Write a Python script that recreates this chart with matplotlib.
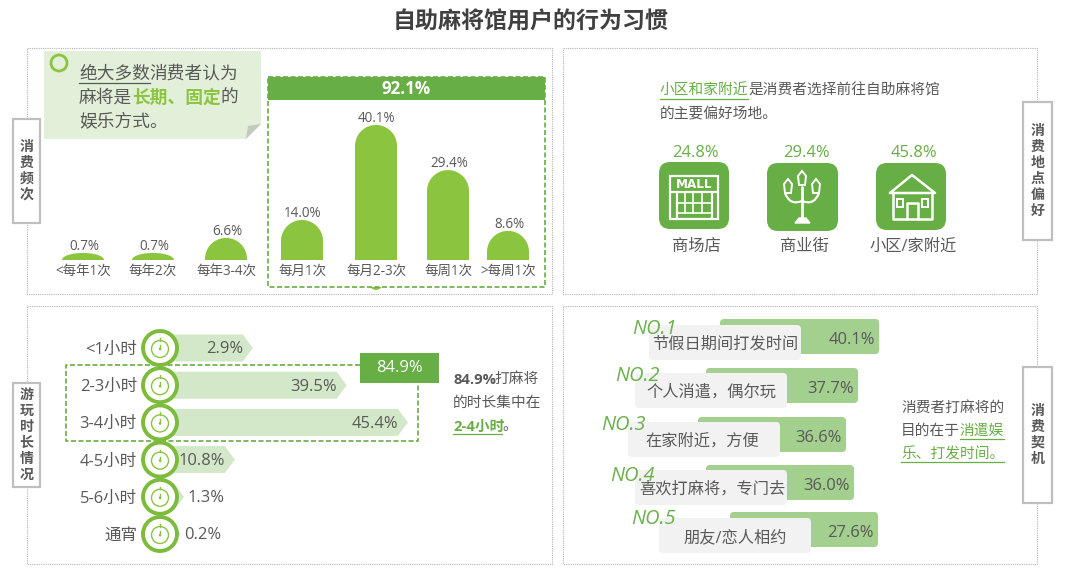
import numpy as np
import matplotlib
matplotlib.use('Agg')
import matplotlib.pyplot as plt
from matplotlib.patches import Rectangle, Polygon, FancyBboxPatch, Circle, PathPatch
from matplotlib.path import Path

plt.rcParams['font.family'] = ['Open Sans', 'Noto Sans CJK SC', 'DejaVu Sans']

W, H = 1069, 570
GREEN = '#67ae45'
BAR_GREEN = '#8bc53f'
TEXT = '#595959'

# visit frequency, the source bars are not to scale so heights are read separately
freq_labels = ['<每年1次', '每年2次', '每年3-4次', '每月1次', '每月2-3次', '每周1次', '>每周1次']
freq_values = [0.7, 0.7, 6.6, 14.0, 40.1, 29.4, 8.6]
freq_heights = [0.7, 0.7, 5.4, 11.0, 40.7, 26.6, 7.6]
freq_x = [83, 153, 226, 302, 376, 448, 508]

# play duration, same thing for the bar lengths
dur_labels = ['<1小时', '2-3小时', '3-4小时', '4-5小时', '5-6小时', '通宵']
dur_values = [2.9, 39.5, 45.4, 10.8, 1.3, 0.2]
dur_lengths = [17.0, 34.2, 45.4, 13.7, 4.4, 3.8]

# venue preference
place_labels = ['商场店', '商业街', '小区/家附近']
place_values = [24.8, 29.4, 45.8]

# reasons
reason_labels = ['节假日期间打发时间', '个人消遣，偶尔玩', '在家附近，方便', '喜欢打麻将，专门去', '朋友/恋人相约']
reason_values = [40.1, 37.7, 36.6, 36.0, 27.6]
reason_lengths = [39.8, 38.0, 37.0, 37.0, 37.0]
reason_ranks = ['NO.1', 'NO.2', 'NO.3', 'NO.4', 'NO.5']


def px(size):
    return size * 0.72


def pixel_axes(left, top, right, bottom, zorder=1):
    ax = fig.add_axes([left / W, 1 - bottom / H, (right - left) / W, (bottom - top) / H], zorder=zorder)
    ax.patch.set_visible(False)
    for s in ax.spines.values():
        s.set_visible(False)
    ax.tick_params(length=0)
    return ax


def rich_line(ax, x, y, segments, size=14.7):
    # segments are (text, color, bold, underline)
    renderer = fig.canvas.get_renderer()
    for seg, color, bold, under in segments:
        t = ax.text(x, y + 1.5, seg, fontsize=px(size), color=color, va='center', ha='left',
                    fontweight='bold' if bold else 'normal')
        if seg.isascii() or any(c in seg for c in '%-'):
            w = t.get_window_extent(renderer).width - 2
        else:
            w = len(seg) * size
        if under:
            ax.plot([x, x + w], [y + size * 0.62] * 2, color=color, lw=0.9)
        x += w


def side_tab(ax, left, top, right, bottom, title):
    ax.add_patch(Rectangle((left, top), right - left, bottom - top, fc='white', ec='#bfbfbf', lw=1.6, zorder=4))
    step = 16
    mid = (top + bottom) / 2
    for i, ch in enumerate(title):
        ax.text((left + right) / 2, mid + (i - (len(title) - 1) / 2) * step, ch, fontsize=px(14),
                fontweight='bold', color=TEXT, ha='center', va='center', zorder=5)


def line(ax, xs, ys, lw=1.6):
    ax.plot(xs, ys, color='white', lw=lw, solid_capstyle='round', zorder=6)


def round_icon(ax, left, top, right, bottom):
    ax.add_patch(FancyBboxPatch((left, top), right - left, bottom - top, boxstyle='round,pad=0,rounding_size=11',
                                fc=GREEN, ec='none', zorder=5))


def draw_mall(ax):
    ax.add_patch(Rectangle((670, 176), 48, 43, fc='none', ec='white', lw=1.6, zorder=6))
    line(ax, [670, 718], [192, 192])
    line(ax, [677, 677], [192, 219])
    line(ax, [712, 712], [192, 219])
    for x in [685, 693, 702]:
        line(ax, [x, x], [192, 213], lw=1.2)
    for y in [203, 213]:
        line(ax, [677, 712], [y, y], lw=1.2)
    ax.text(694, 184, 'MALL', color='white', fontsize=px(12), fontweight='bold', ha='center', va='center', zorder=6,
            family='DejaVu Sans')


def draw_lamp(ax):
    line(ax, [802, 802], [187, 220], lw=2)
    ax.add_patch(Polygon([(795, 223), (810, 223), (806, 218), (799, 218)], fc='white', ec='white', zorder=6))
    for cx, cy in [(802, 178), (788, 186), (816, 186)]:
        ax.add_patch(Polygon([(cx - 4, cy - 2), (cx, cy - 7), (cx + 4, cy - 2), (cx + 3, cy + 7), (cx - 3, cy + 7)],
                             fc='none', ec='white', lw=1.4, zorder=6))
    for x0, x1 in [(785, 790), (819, 814)]:
        verts = [(x0, 193), (x1, 206), (802, 201)]
        ax.add_patch(PathPatch(Path(verts, [Path.MOVETO, Path.CURVE3, Path.CURVE3]), fc='none', ec='white', lw=1.6, zorder=6))


def draw_house(ax):
    line(ax, [890, 912, 935, 890], [193, 175, 193, 193], lw=1.8)
    line(ax, [893, 893, 932, 932], [193, 219, 219, 193], lw=1.8)
    line(ax, [907, 907, 918, 918], [219, 203, 203, 219], lw=1.8)
    for x in [897, 922]:
        ax.add_patch(Rectangle((x, 199), 6, 8, fc='none', ec='white', lw=1.4, zorder=6))


def stopwatch(ax, x, y):
    ax.add_patch(Circle((x, y), 17, fc='white', ec='#7dbb3c', lw=2.8, zorder=5))
    ax.add_patch(Circle((x, y + 1), 8.5, fc='none', ec=BAR_GREEN, lw=1, zorder=6))
    ax.plot([x, x], [y - 10, y - 7.5], color=BAR_GREEN, lw=1, zorder=6)
    ax.plot([x, x], [y - 3, y + 1], color=BAR_GREEN, lw=1, zorder=6)
    ax.add_patch(Circle((x, y + 1), 1.3, fc=BAR_GREEN, ec='none', zorder=6))


fig = plt.figure(figsize=(W / 100, H / 100), dpi=100, facecolor='white')

# background layer in image pixels
bg = pixel_axes(0, 0, W, H, zorder=0)
bg.set_xlim(0, W)
bg.set_ylim(H, 0)
bg.set_xticks([])
bg.set_yticks([])

# foreground layer in image pixels
fg = pixel_axes(0, 0, W, H, zorder=5)
fg.set_xlim(0, W)
fg.set_ylim(H, 0)
fg.set_xticks([])
fg.set_yticks([])

fg.text(531, 23, '自助麻将馆用户的行为习惯', fontsize=px(23), fontweight='bold', color='#404040', ha='center', va='center')

for left, top, right, bottom in [(27, 48, 552, 294), (563, 48, 1037, 294), (27, 306, 552, 564), (563, 306, 1037, 564)]:
    bg.add_patch(Rectangle((left, top), right - left, bottom - top, fc='none', ec='#b5b5b5', lw=0.8, ls=(0, (1, 1))))

side_tab(fg, 13, 119, 40, 223, '消费频次')
side_tab(fg, 13, 383, 40, 487, '游玩时长情况')
side_tab(fg, 1023, 102, 1052, 240, '消费地点偏好')
side_tab(fg, 1023, 367, 1052, 503, '消费契机')

# top left note
bg.add_patch(Polygon([(44, 51), (261, 51), (261, 124), (246, 139), (44, 139)], fc='#e2efd9', ec='none'))
bg.add_patch(Polygon([(261, 124), (246, 139), (248, 126)], fc='#c3c9bd', ec='none'))
bg.add_patch(Circle((59, 63), 8, fc='none', ec=BAR_GREEN, lw=2))
rich_line(fg, 79, 72, [('绝大多数', TEXT, False, True), ('消费者认为', TEXT, False, False)], 17.7)
rich_line(fg, 79, 96, [('麻将是', TEXT, False, False), ('长期、固定', BAR_GREEN, True, False), ('的', TEXT, False, False)], 17.7)
rich_line(fg, 79, 120, [('娱乐方式。', TEXT, False, False)], 17.7)

# frequency bars
BAR_W = 42
Y_SCALE = 3.2
BASE = 1.5
ax_freq = pixel_axes(27, 100, 552, 260, zorder=2)
ax_freq.set_xlim(27, 552)
ax_freq.set_ylim(-BASE, -BASE + 160 / Y_SCALE)
for x, v, n in zip(freq_x, freq_values, freq_heights):
    h = n + BASE
    ry = min(BAR_W / 2 / Y_SCALE, h)
    t = np.linspace(np.pi, 0, 40)
    pts = [(x - BAR_W / 2, -BASE)] + [(x + BAR_W / 2 * np.cos(a), n - ry + ry * np.sin(a)) for a in t] + [(x + BAR_W / 2, -BASE)]
    ax_freq.add_patch(Polygon(pts, fc=BAR_GREEN, ec='none'))
    ax_freq.annotate(f'{v:.1f}%', (x + 1, n), xytext=(0, -1), textcoords='offset points', ha='center', va='bottom',
                     fontsize=px(13.5), color=TEXT)
ax_freq.set_xticks(freq_x, freq_labels, fontsize=px(13.5), color=TEXT)
ax_freq.set_yticks([])
ax_freq.tick_params(axis='x', pad=3)

bg.add_patch(Circle((376, 283), 7, fc=BAR_GREEN, ec='none'))
bg.add_patch(Rectangle((268, 77), 277, 210, fc='white', ec='none'))
fg.add_patch(Rectangle((268, 77), 277, 210, fc='none', ec=GREEN, lw=1.2, ls=(0, (3, 1.5))))
fg.add_patch(Rectangle((268, 77), 277, 23, fc=GREEN, ec='none'))
fg.text(406, 89, '92.1%', color='white', fontsize=px(17), fontweight='bold', ha='center', va='center')

# venue panel
rich_line(fg, 660, 90, [('小区和家附近', GREEN, False, True), ('是消费者选择前往自助麻将馆', TEXT, False, False)])
rich_line(fg, 660, 113, [('的主要偏好场地。', TEXT, False, False)])
round_icon(fg, 659, 162, 729, 229)
round_icon(fg, 767, 163, 838, 231)
round_icon(fg, 876, 163, 946, 230)
draw_mall(fg)
draw_lamp(fg)
draw_house(fg)
for x, lx, v, name in zip([695, 806, 914], [696, 804, 913], place_values, place_labels):
    fg.text(x, 153, f'{v:.1f}%', color=GREEN, fontsize=px(16.5), ha='center', va='center')
    fg.text(lx, 247, name, color=TEXT, fontsize=px(16.3), ha='center', va='center')

# duration bars
ROW = 37.2
X_SCALE = 5.46
ax_dur = pixel_axes(160, 348 - ROW / 2, 552, 534 + ROW / 2, zorder=2)
ax_dur.set_xlim(0, 392 / X_SCALE)
ax_dur.set_ylim(5.5, -0.5)
tip = 10 / X_SCALE
half = 13.5 / ROW
for i, (v, n) in enumerate(zip(dur_values, dur_lengths)):
    ax_dur.add_patch(Polygon([(0, i - half), (n - tip, i - half), (n, i), (n - tip, i + half), (0, i + half)],
                             fc='#d3e8c8', ec='none'))
    if n > 10:
        ax_dur.text(n - 10 / X_SCALE, i + 0.04, f'{v}%', ha='right', va='center', fontsize=px(16.5), color=TEXT, zorder=7)
    else:
        ax_dur.text(n + 3 / X_SCALE, i + 0.04, f'{v}%', ha='left', va='center', fontsize=px(16.5), color=TEXT, zorder=7)
ax_dur.set_yticks(range(len(dur_labels)), dur_labels, fontsize=px(16.5), color=TEXT)
ax_dur.set_xticks([])
ax_dur.tick_params(axis='y', pad=px(23))

for i in range(len(dur_labels)):
    stopwatch(fg, 160, 348 + i * ROW)

fg.plot([360, 66, 66, 418, 418], [365, 365, 441, 441, 383], color=GREEN, lw=1.2, ls=(0, (3, 1.5)))
fg.add_patch(Rectangle((360, 353), 79, 30, fc=GREEN, ec='none', zorder=6))
fg.text(399, 368, '84.9%', color='white', fontsize=px(16.5), ha='center', va='center', zorder=7)
rich_line(fg, 453, 378, [('84.9%', TEXT, True, False), ('打麻将', TEXT, False, False)])
rich_line(fg, 453, 402, [('的时长集中在', TEXT, False, False)])
rich_line(fg, 453, 425, [('2-4小时', GREEN, True, True), ('。', TEXT, False, False)])

# reason bars
bar_left = [720, 706, 698, 706, 730]
bar_y = [319, 368, 417, 465, 512]
box_left = [649, 635, 628, 635, 659]
box_y = [325, 373, 422, 470, 518]
label_x = [725, 711, 702, 712, 735]
rank_x = [632, 615, 601, 610, 631]
rank_y = [329, 376, 425, 476, 519]
ax_reason = pixel_axes(563, 306, 1037, 564, zorder=2)
ax_reason.set_xlim(563, 1037)
ax_reason.set_ylim(564, 306)
ax_reason.set_xticks([])
ax_reason.set_yticks([])
for i, v in enumerate(reason_values):
    n = reason_lengths[i] * 4
    ax_reason.add_patch(FancyBboxPatch((bar_left[i], bar_y[i]), n, 35, boxstyle='round,pad=0,rounding_size=4',
                                       fc='#a3cf8f', ec='none', zorder=2))
    ax_reason.add_patch(FancyBboxPatch((box_left[i], box_y[i]), 152, 35, boxstyle='round,pad=0,rounding_size=4',
                                       fc='#f2f2f2', ec='none', zorder=3))
    ax_reason.text(bar_left[i] + n - 4, bar_y[i] + 21, f'{v:.1f}%', ha='right', va='center', fontsize=px(16.5), color=TEXT, zorder=4)
    ax_reason.text(label_x[i], box_y[i] + 20, reason_labels[i], ha='center', va='center', fontsize=px(16.2), color=TEXT, zorder=4)
    ax_reason.text(rank_x[i], rank_y[i], reason_ranks[i], ha='left', va='center', fontsize=px(20), color='#6ab04c',
                   style='italic', family='Open Sans', zorder=5)

rich_line(fg, 901, 407, [('消费者打麻将的', TEXT, False, False)])
rich_line(fg, 901, 430, [('目的在于', TEXT, False, False), ('消遣娱', GREEN, False, True)])
rich_line(fg, 901, 453, [('乐、打发时间。', GREEN, False, True)])

fig.savefig('out.png', dpi=100)
